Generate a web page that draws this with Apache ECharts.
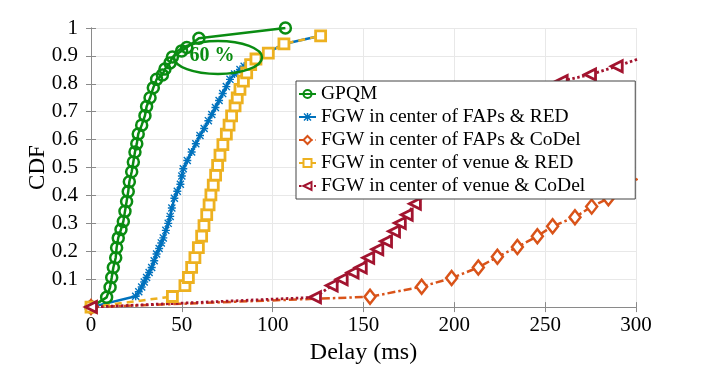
<!DOCTYPE html>
<html><head><meta charset="utf-8">
<script src="https://cdn.jsdelivr.net/npm/echarts@6/dist/echarts.min.js"></script>
<style>html,body{margin:0;padding:0;background:#fff}#c{width:706px;height:370px}</style>
</head><body><div id="c"></div>
<script>
// ---- data (x = delay in ms, y = CDF) ----
const xTicks = [0, 50, 100, 150, 200, 250, 300];
const yTicks = [0.1, 0.2, 0.3, 0.4, 0.5, 0.6, 0.7, 0.8, 0.9, 1];
const seriesNames = ['GPQM', 'FGW in center of FAPs & RED', 'FGW in center of FAPs & CoDel',
  'FGW in center of venue & RED', 'FGW in center of venue & CoDel'];

const gpqm = [[0,0],[8.6,0.035],[10.5,0.071],[11.4,0.106],[12.3,0.142],[13.6,0.177],[14.1,0.213],
  [15,0.248],[16.5,0.278],[17.8,0.307],[18.7,0.343],[19.6,0.378],[20.5,0.414],[21.1,0.449],
  [22.4,0.485],[23.3,0.52],[24.2,0.556],[25.2,0.585],[26,0.62],[27.9,0.652],[29.7,0.686],
  [30.6,0.719],[32.5,0.75],[34.3,0.786],[36.1,0.816],[39.3,0.832],[40.7,0.853],[43.5,0.875],
  [44.8,0.896],[49.9,0.918],[52.7,0.93],[59.4,0.963],[107,1.0]];

const fapsRed = [[0,0],[24.6,0.039],[26.3,0.055],[27.9,0.072],[29.3,0.09],[30.6,0.106],[32,0.124],
  [33.4,0.142],[34.8,0.166],[36.1,0.19],[37.5,0.21],[38.7,0.23],[39.8,0.248],[41.2,0.275],
  [42.5,0.3],[43.6,0.325],[44.5,0.355],[45.9,0.39],[47.5,0.415],[49.2,0.44],[50,0.47],
  [50.8,0.496],[53,0.525],[55.4,0.556],[57.7,0.585],[60,0.615],[62.3,0.64],[64.6,0.668],
  [66.5,0.69],[68.5,0.715],[70.5,0.74],[72.5,0.765],[74.5,0.79],[76.5,0.816],[79,0.835],
  [82,0.851],[84.3,0.863],[86.6,0.875],[96.7,0.91],[106.2,0.943],[126.4,0.972]];

const fapsCodel = [[0,0],[153.6,0.037],[182,0.073],[198.5,0.104],[213.2,0.142],[223.7,0.18],
  [234.7,0.215],[245.7,0.254],[254.1,0.29],[266.4,0.322],[275.6,0.36],[284.8,0.39],[310,0.5]];

const venueRed = [[0,0],[44.8,0.038],[51.7,0.077],[53.6,0.106],[55.4,0.142],[57.2,0.177],
  [59.1,0.213],[60.9,0.254],[62.2,0.292],[63.7,0.331],[65,0.366],[66,0.402],[67.3,0.437],
  [68.6,0.473],[69.7,0.508],[71,0.544],[72.6,0.582],[74.5,0.62],[76,0.652],[77.4,0.685],
  [79.3,0.721],[80.5,0.75],[82,0.78],[83.9,0.81],[85.7,0.839],[87.9,0.869],[90.8,0.889],
  [97.6,0.91],[106.2,0.943],[126.4,0.972]];

const venueCodel = [[0,0],[123.3,0.035],[132.5,0.077],[138,0.1],[144,0.124],[148.5,0.142],
  [152.6,0.177],[157.6,0.207],[162.4,0.236],[166.8,0.272],[170,0.301],[173.8,0.331],
  [178.3,0.37],[259.1,0.81],[274.7,0.833],[289.4,0.863],[304,0.895]];

// ---- styling ----
const C = { g: '#0a8c12', b: '#0072BD', o: '#D95319', y: '#EDB120', r: '#A2142F' };
const FONT = 'Liberation Serif';
const asterisk = 'path://M4.1,0 H5.9 V10 H4.1 Z M0,4.1 H10 V5.9 H0 Z M1.2,0 L10,8.8 L8.8,10 L0,1.2 Z M8.8,0 L10,1.2 L1.2,10 L0,8.8 Z';

function mk(name, data, color, sym, size, lineType, lw, fill, bw, rot) {
  return {
    name, type: 'line', data, symbol: sym, symbolSize: size, symbolRotate: rot || 0,
    showAllSymbol: true, clip: true, animation: false,
    lineStyle: { color, width: lw, type: lineType },
    itemStyle: { color: fill, borderColor: color, borderWidth: bw }
  };
}

const chart = echarts.init(document.getElementById('c'), null, { renderer: 'canvas' });
const gridLine = { show: true, lineStyle: { color: '#e8e8e8', width: 1 } };
const axLine = { show: true, lineStyle: { color: '#8a8a8a', width: 1 } };
const tick = { show: true, inside: true, length: 5, lineStyle: { color: '#8a8a8a' } };

chart.setOption({
  backgroundColor: '#fff',
  animation: false,
  grid: { left: 91, right: 70, top: 28, bottom: 60, containLabel: false },
  xAxis: [{
    type: 'value', min: 0, max: 300, interval: 50,
    name: 'Delay (ms)', nameLocation: 'middle', nameGap: 33,
    nameTextStyle: { fontFamily: FONT, fontSize: 24, color: '#000' },
    axisLine: axLine, axisTick: tick, splitLine: gridLine,
    axisLabel: { fontFamily: FONT, fontSize: 21, color: '#000', margin: 8,
      formatter: v => xTicks.includes(v) ? String(v) : '' }
  }, {
    type: 'value', min: 0, max: 300, interval: 50, position: 'top',
    axisLine: axLine, axisTick: tick, splitLine: { show: false }, axisLabel: { show: false }
  }],
  yAxis: [{
    type: 'value', min: 0, max: 1, interval: 0.1,
    name: 'CDF', nameLocation: 'middle', nameGap: 42, nameMoveOverlap: false,
    nameTextStyle: { fontFamily: FONT, fontSize: 23, color: '#000' },
    axisLine: axLine, axisTick: tick, splitLine: gridLine,
    axisLabel: { fontFamily: FONT, fontSize: 21, color: '#000', margin: 13,
      formatter: v => { const t = yTicks.find(k => Math.abs(k - v) < 1e-6); return t === undefined ? '' : (t === 1 ? '1' : t.toFixed(1)); } }
  }, {
    type: 'value', min: 0, max: 1, interval: 0.1, position: 'right',
    axisLine: axLine, axisTick: tick, splitLine: { show: false }, axisLabel: { show: false }
  }],
  legend: {
    orient: 'vertical', left: 296, top: 81, padding: [3, 50, 3, 2],
    itemWidth: 17, itemHeight: 10, itemGap: 3,
    backgroundColor: '#fff', borderColor: '#444', borderWidth: 1,
    textStyle: { fontFamily: FONT, fontSize: 19.5, color: '#000', lineHeight: 20 },
    data: seriesNames
  },
  series: [
    mk(seriesNames[0], gpqm, C.g, 'circle', 11, 'solid', 2.5, 'rgba(0,0,0,0)', 2.5),
    mk(seriesNames[1], fapsRed, C.b, asterisk, 8, 'solid', 2.5, C.b, 0),
    mk(seriesNames[2], fapsCodel, C.o, 'diamond', [11, 14], [8, 3, 2.5, 3], 2.5, '#fff', 2.5),
    mk(seriesNames[3], venueRed, C.y, 'rect', 10, [7, 5], 2.5, '#fff', 2.8),
    mk(seriesNames[4], venueCodel, C.r, 'triangle', 11, [2.5, 2.5], 2.8, '#fff', 2.8, 90)
  ],
  graphic: [
    { type: 'ellipse', shape: { cx: 218, cy: 57.5, rx: 44, ry: 16.5 }, z: 100,
      style: { fill: 'none', stroke: C.g, lineWidth: 2.5 } },
    { type: 'text', x: 212, y: 56, z: 101,
      style: { text: '60 %', fill: C.g, font: 'bold 20px "Liberation Serif"', align: 'center', verticalAlign: 'middle' } }
  ]
});
</script></body></html>
